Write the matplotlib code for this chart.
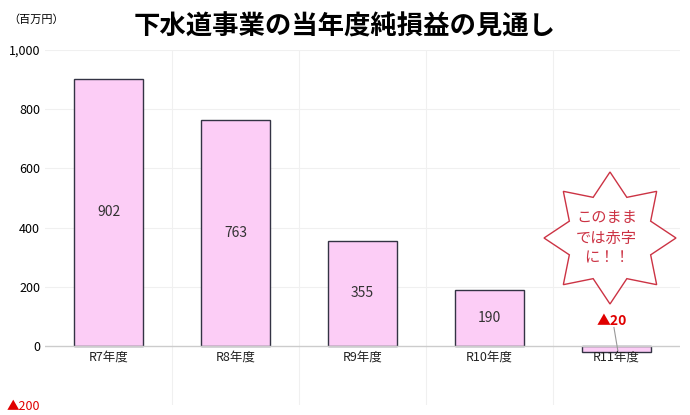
import numpy as np
import matplotlib
matplotlib.use("Agg")
import matplotlib.pyplot as plt
from matplotlib.patches import Polygon

plt.rcParams['font.family'] = ['Noto Sans CJK JP', 'DejaVu Sans']

categories = ["R7年度", "R8年度", "R9年度", "R10年度", "R11年度"]
values = [902, 763, 355, 190, -20]
labels = ["902", "763", "355", "190", "▲20"]
yticks = [-200, 0, 200, 400, 600, 800, 1000]
yticklabels = ["▲200", "0", "200", "400", "600", "800", "1,000"]

W, H = 690, 415
fig = plt.figure(figsize=(W/100, H/100), dpi=100)
ax = fig.add_axes([45/W, (H-405)/H, 635/W, 355/H])
x = np.arange(len(categories))
ax.bar(x, values, width=0.55, color="#fccdf6", edgecolor="#333344", linewidth=1, zorder=2)
ax.set_xlim(-0.5, len(categories) - 0.5)
ax.set_ylim(-200, 1000)
ax.set_yticks(yticks)
ax.set_yticklabels(yticklabels, fontsize=9)
ax.get_yticklabels()[0].set_color("#e00000")
ax.set_xticks([])
for xb in np.arange(0.5, len(categories) - 0.5):
    ax.axvline(xb, color="#f0f0f0", lw=0.8, zorder=0)
for yv in yticks[2:]:
    ax.axhline(yv, color="#f0f0f0", lw=0.8, zorder=0)
ax.axhline(0, color="#cccccc", lw=1, zorder=3)
for s in ax.spines.values():
    s.set_visible(False)
ax.tick_params(axis='y', length=0)
for i, c in enumerate(categories):
    ax.text(i, -15, c, ha="center", va="top", fontsize=9, color="#222222", zorder=4)
for i, (v, l) in enumerate(zip(values, labels)):
    if v > 0:
        ax.text(i, v / 2, l, ha="center", va="center", fontsize=10, color="#333333", zorder=4)
    else:
        ax.text(i - 0.04, 85, l, ha="center", va="center", fontsize=10, color="#e00000", fontweight="bold", zorder=4)
        ax.plot([i - 0.02, i + 0.01], [62, -15], color="#999999", lw=0.8, zorder=4)

fig.text(8/W, 1 - 20/H, "（百万円）", fontsize=8, va="center")
fig.text(345/W, 1 - 27/H, "下水道事業の当年度純損益の見通し", fontsize=19, ha="center", va="center", fontweight="bold")

# starburst
cx, cy = 610, 238
n = 8
angs = np.pi/2 + np.arange(2*n) * np.pi / n
rs = np.where(np.arange(2*n) % 2 == 0, 66, 44)
px = cx + rs * np.cos(angs)
py = cy - rs * np.sin(angs)
pts = np.column_stack([px / W, 1 - py / H])
fig.patches.append(Polygon(pts, closed=True, transform=fig.transFigure, facecolor="white", edgecolor="#cc3344", lw=1, zorder=5))
fig.text(cx/W - 0.005, 1 - cy/H, "このまま\nでは赤字\nに！！", fontsize=11, color="#cc3344", ha="center", va="center", linespacing=1.25, zorder=6)

fig.savefig("out.png", dpi=100)
